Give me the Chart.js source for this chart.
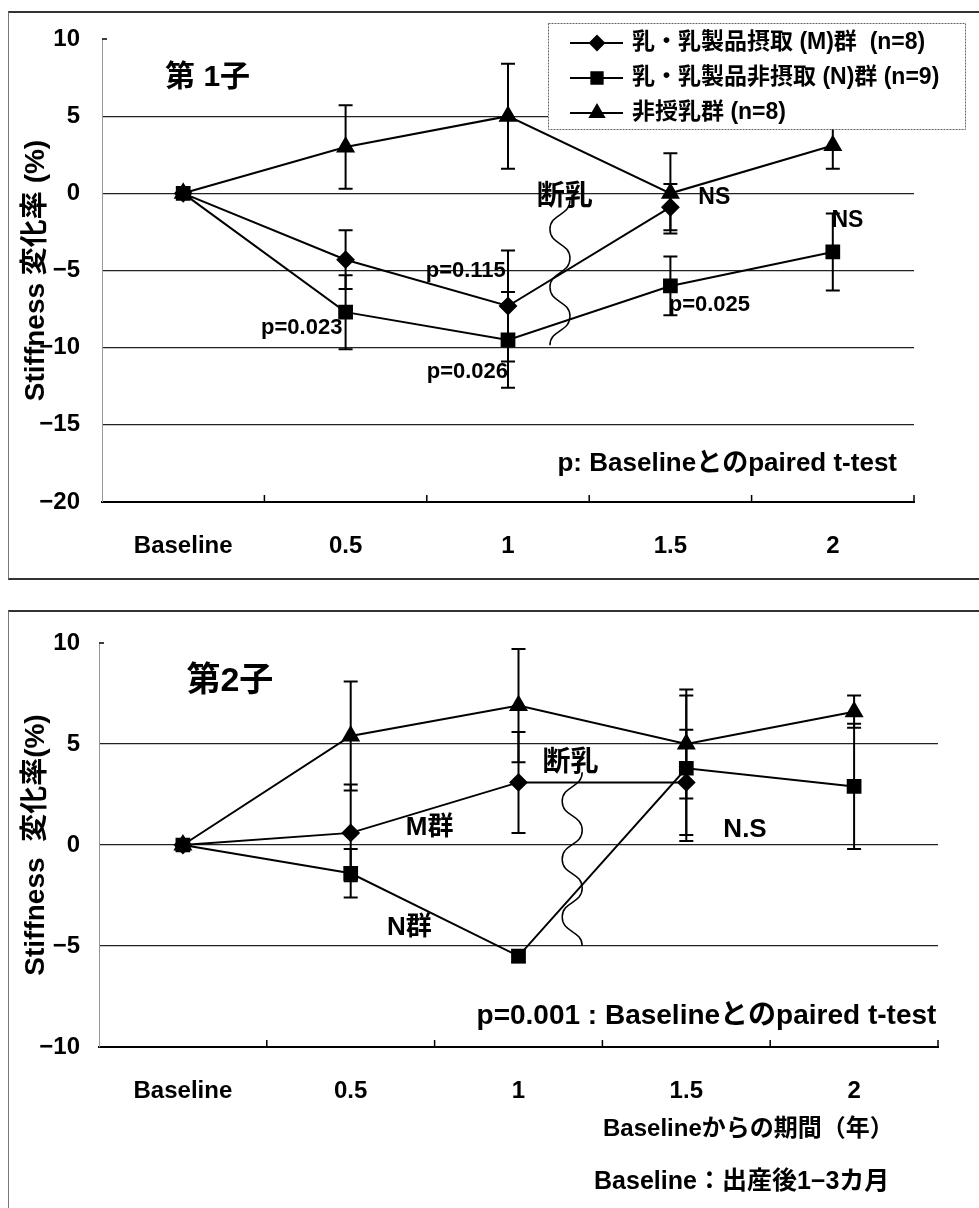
<!DOCTYPE html>
<html>
<head>
<meta charset="utf-8">
<script src="https://cdn.jsdelivr.net/npm/chart.js@4.4.0/dist/chart.umd.min.js"></script>
<style>
  body { margin: 0; background: #fff; width: 979px; height: 1208px; overflow: hidden; position: relative; }
  .frame { position: absolute; border-top: 2px solid #333; border-bottom: 2px solid #333; border-left: 1px solid #777; }
  #f1 { left: 8px; top: 11px; width: 1000px; height: 565px; }
  #f2 { left: 8px; top: 610px; width: 1000px; height: 700px; }
  canvas { position: absolute; left: 0; }
  #c1 { top: 0; }
  #c2 { top: 595px; }
</style>
</head>
<body>
<div class="frame" id="f1"></div>
<div class="frame" id="f2"></div>
<canvas id="c1" width="979" height="595"></canvas>
<canvas id="c2" width="979" height="613"></canvas>
<script>
const FONT = "'Liberation Sans', 'Noto Sans CJK JP', sans-serif";

// x categories (years from baseline)
const periods = ["Baseline", "0.5", "1", "1.5", "2"];
const groupNames = ["乳・乳製品摂取 (M)群  (n=8)", "乳・乳製品非摂取 (N)群 (n=9)", "非授乳群 (n=8)"];

// 第1子
const yTicks1 = [-20, -15, -10, -5, 0, 5, 10];
const m1 = [0, -4.3, -7.3, -0.9, null];
const m1Err = [0, 1.9, 3.6, 1.5, null];
const n1 = [0, -7.7, -9.5, -6.0, -3.8];
const n1Err = [0, 2.4, 3.1, 1.9, 2.5];
const t1 = [0, 3.0, 5.0, 0.0, 3.1];
const t1Err = [0, 2.7, 3.4, 2.6, 1.5];

// 第2子
const yTicks2 = [-10, -5, 0, 5, 10];
const m2 = [0, 0.6, 3.1, 3.1, null];
const m2Err = [0, 2.4, 2.5, 2.6, null];
const n2 = [0, -1.4, -5.5, 3.8, 2.9];
const n2Err = [0, 1.2, 0.3, 3.6, 3.1];
const t2 = [0, 5.4, 6.9, 5.0, 6.6];
const t2Err = [0, 2.7, 2.8, 2.7, 0.8];

// text notes, placed in data units (category index, value)
const notes1 = [
  { text: "第 1子", i: 0.15, v: 7.5, size: 30 },
  { text: "断乳", i: 2.35, v: -0.26, size: 28 },
  { text: "NS", i: 3.27, v: -0.26, size: 23 },
  { text: "NS", i: 4.09, v: -1.75, size: 23 },
  { text: "p=0.115", i: 1.74, v: -5.05, size: 22 },
  { text: "p=0.023", i: 0.73, v: -8.7, size: 22 },
  { text: "p=0.026", i: 1.75, v: -11.6, size: 22 },
  { text: "p=0.025", i: 3.24, v: -7.2, size: 22 },
  { text: "p: Baselineとのpaired t-test", i: 3.35, v: -17.5, size: 26 },
];
const notes2 = [
  { text: "第2子", i: 0.28, v: 8.07, size: 34 },
  { text: "断乳", i: 2.31, v: 4.06, size: 28 },
  { text: "M群", i: 1.47, v: 0.84, size: 26 },
  { text: "N群", i: 1.35, v: -4.1, size: 26 },
  { text: "N.S", i: 3.35, v: 0.74, size: 26 },
  { text: "p=0.001 : Baselineとのpaired t-test", i: 3.12, v: -8.5, size: 28 },
  { text: "Baselineからの期間（年）", i: 3.37, v: -14.1, size: 24 },
  { text: "Baseline：出産後1−3カ月", i: 3.33, v: -16.7, size: 25 },
];

const extras = {
  id: "extras",
  afterDraw(chart, args, opts) {
    const { ctx, scales: { x, y } } = chart;
    ctx.save();
    ctx.strokeStyle = "#000";
    ctx.fillStyle = "#000";

    // error bars
    ctx.lineWidth = 2;
    chart.data.datasets.forEach(ds => {
      ds.data.forEach((v, i) => {
        const e = ds.errs[i];
        if (v == null || !e) return;
        const px = x.getPixelForValue(i);
        const top = y.getPixelForValue(v + e), bot = y.getPixelForValue(v - e);
        ctx.beginPath();
        ctx.moveTo(px, top); ctx.lineTo(px, bot);
        ctx.moveTo(px - 7, top); ctx.lineTo(px + 7, top);
        ctx.moveTo(px - 7, bot); ctx.lineTo(px + 7, bot);
        ctx.stroke();
      });
    });

    // small tick marks on the x axis, pointing up
    ctx.lineWidth = 1.5;
    const yb = y.getPixelForValue(y.min);
    for (let k = 0; k < periods.length; k++) {
      const px = x.getPixelForValue(k + 0.5);
      ctx.beginPath(); ctx.moveTo(px, yb); ctx.lineTo(px, yb - 7); ctx.stroke();
    }
    const yt = y.getPixelForValue(y.max);
    ctx.beginPath(); ctx.moveTo(x.left, yt); ctx.lineTo(x.left + 5, yt); ctx.stroke();

    // wavy 断乳 marker
    const w = opts.wave;
    const wx = x.getPixelForValue(w.i);
    const y0 = y.getPixelForValue(w.from), y1 = y.getPixelForValue(w.to);
    const h = (y1 - y0) / w.halves;
    ctx.lineWidth = 1.5;
    ctx.beginPath();
    let side = 1;
    ctx.moveTo(wx + side * w.amp, y0);
    for (let k = 0; k < w.halves; k++) {
      const ya = y0 + k * h, yn = ya + h;
      ctx.bezierCurveTo(wx + side * w.amp, ya + h * 0.55, wx - side * w.amp, yn - h * 0.55, wx - side * w.amp, yn);
      side = -side;
    }
    ctx.stroke();

    // notes
    ctx.textAlign = "center";
    ctx.textBaseline = "middle";
    opts.notes.forEach(n => {
      ctx.font = "bold " + n.size + "px " + FONT;
      ctx.fillText(n.text, x.getPixelForValue(n.i), y.getPixelForValue(n.v));
    });

    // legend box
    const L = opts.legend;
    if (L) {
      ctx.fillStyle = "#fff";
      ctx.fillRect(L.x, L.y, L.w, L.h);
      ctx.strokeStyle = "#666";
      ctx.lineWidth = 1;
      ctx.setLineDash([2, 1]);
      ctx.strokeRect(L.x + 0.5, L.y + 0.5, L.w, L.h);
      ctx.setLineDash([]);
      ctx.fillStyle = "#000";
      ctx.strokeStyle = "#000";
      ctx.textAlign = "left";
      ctx.font = "bold 23px " + FONT;
      chart.data.datasets.forEach((ds, k) => {
        const ry = L.y + 20 + k * 35;
        ctx.lineWidth = 2;
        ctx.beginPath(); ctx.moveTo(L.x + 22, ry); ctx.lineTo(L.x + 75, ry); ctx.stroke();
        Chart.helpers.drawPoint(ctx, { pointStyle: ds.pointStyle, radius: ds.pointRadius - 1, borderWidth: 1 }, L.x + 49, ry);
        ctx.fill();
        ctx.fillText(ds.label, L.x + 84, ry);
      });
    }
    ctx.restore();
  }
};

function makeChart(id, series, errs, ticks, yTitle, axisW, notes, wave, legend, pad) {
  const styles = [["rectRot", 8], ["rect", 9], ["triangle", 9]];
  const yMin = Math.min(...ticks), yMax = Math.max(...ticks);
  return new Chart(document.getElementById(id), {
    type: "line",
    data: {
      labels: periods,
      datasets: series.map((s, k) => ({
        label: groupNames[k],
        data: s,
        errs: errs[k],
        borderColor: "#000",
        backgroundColor: "#000",
        borderWidth: 2,
        pointStyle: styles[k][0],
        pointRadius: styles[k][1],
        pointBackgroundColor: "#000",
        pointBorderColor: "#000",
        tension: 0,
      })),
    },
    options: {
      responsive: false,
      animation: false,
      layout: { padding: pad },
      plugins: {
        legend: { display: false },
        tooltip: { enabled: false },
        extras: { notes: notes, wave: wave, legend: legend },
      },
      scales: {
        x: {
          offset: true,
          grid: { display: false },
          border: { display: true, color: "#000", width: 2 },
          ticks: { color: "#000", padding: 22, font: { family: FONT, size: 24, weight: "bold" } },
          afterFit: s => { s.height = pad.xh; },
        },
        y: {
          min: yMin,
          max: yMax,
          ticks: {
            stepSize: 5,
            color: "#000",
            padding: axisW - 80,
            font: { family: FONT, size: 24, weight: "bold" },
            callback: v => String(v).replace("-", "−"),
          },
          grid: {
            drawTicks: false,
            lineWidth: 1.2,
            color: c => (c.tick && (c.tick.value === yMax || c.tick.value === yMin)) ? "rgba(0,0,0,0)" : "#222",
          },
          border: { display: true, color: "#999", width: 1 },
          title: { display: true, text: yTitle, color: "#000", padding: { top: 19, bottom: 0 }, font: { family: FONT, size: 28, weight: "bold" } },
          afterFit: s => { s.width = axisW; },
        },
      },
    },
    plugins: [extras],
  });
}

makeChart("c1", [m1, n1, t1], [m1Err, n1Err, t1Err], yTicks1, "Stiffness 変化率 (%)", 102, notes1,
  { i: 2.32, from: -0.45, to: -9.85, halves: 5, amp: 10 },
  { x: 548, y: 23, w: 417, h: 106 },
  { top: 39, right: 65, left: 0, bottom: 0, xh: 93 });

makeChart("c2", [m2, n2, t2], [m2Err, n2Err, t2Err], yTicks2, "Stiffness  変化率(%)", 99, notes2,
  { i: 2.32, from: 3.6, to: -5, halves: 6, amp: 10 },
  null,
  { top: 48, right: 41, left: 0, bottom: 0, xh: 161 });
</script>
</body>
</html>
